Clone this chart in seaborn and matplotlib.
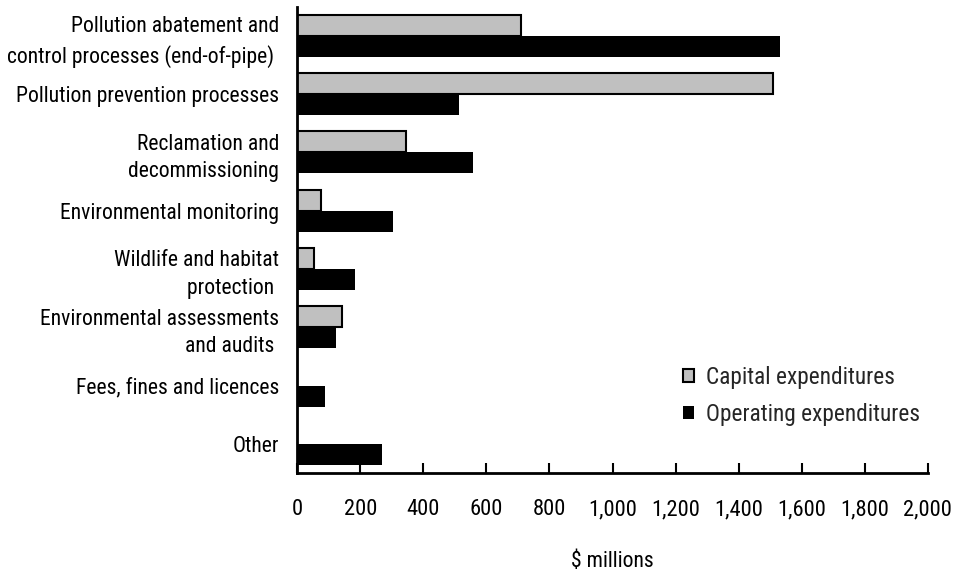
import matplotlib
matplotlib.use("Agg")
import matplotlib.pyplot as plt
from matplotlib import font_manager
from matplotlib.patches import Patch
from matplotlib.ticker import FuncFormatter
import pandas as pd
import seaborn as sns

categories = [
    "Pollution abatement and\ncontrol processes (end-of-pipe) ",
    "Pollution prevention processes",
    "Reclamation and\ndecommissioning",
    "Environmental monitoring",
    "Wildlife and habitat\nprotection ",
    "Environmental assessments\nand audits ",
    "Fees, fines and licences",
    "Other",
]
capital = [710, 1508, 345, 75, 53, 142, 0, 0]
operating = [1531, 513, 557, 304, 183, 122, 87, 268]
series_names = ["Capital expenditures", "Operating expenditures"]
x_ticks = list(range(0, 2001, 200))

df = pd.DataFrame({
    "category": categories * 2,
    "value": capital + operating,
    "series": [series_names[0]] * len(categories) + [series_names[1]] * len(categories),
})

sns.set_style("white")

# Prefer a narrow sans face for the labels, falling back to a regular one.
fonts = font_manager.fontManager.ttflist
names = {f.name for f in fonts}
family, stretch, FS, TFS, LFS = "Liberation Sans", "normal", 13, 13.5, 14
if "Roboto Condensed" in names:
    family, FS, TFS, LFS = "Roboto Condensed", 15.6, 16.2, 16.8
elif "Liberation Sans Narrow" in names:
    family, FS, TFS, LFS = "Liberation Sans Narrow", 15, 15.5, 16
elif any(f.name == "DejaVu Sans" and f.stretch == "condensed" for f in fonts):
    family, stretch, FS, TFS, LFS = "DejaVu Sans", "condensed", 13.5, 14, 14.5
elif "Liberation Sans" not in names:
    family = "DejaVu Sans"
plt.rcParams["font.family"] = [family, "DejaVu Sans"]
plt.rcParams["font.stretch"] = stretch

GRAY = "#c0c0c0"
BLACK = "#000000"

fig = plt.figure(figsize=(9.58, 5.72), dpi=100)
W, H = 958, 572
ax = fig.add_axes([297.3 / W, 1 - 473 / H, (927.7 - 297.3) / W, (473 - 6.7) / H])

sns.barplot(
    data=df, y="category", x="value", hue="series", orient="h",
    palette=[GRAY, BLACK], saturation=1, width=0.72, ax=ax,
    edgecolor="black", linewidth=1.5, legend=False,
)
for bar in ax.containers[1]:
    bar.set_linewidth(0)

ax.set_xlim(0, 2000)
ax.set_ylim(7.5, -0.5)
ax.set_xticks(x_ticks)
ax.xaxis.set_major_formatter(FuncFormatter(lambda v, p: f"{int(v):,}"))
ax.tick_params(axis="x", direction="in", length=7, width=1.5, pad=19,
               labelsize=TFS, colors="black", bottom=True)
ax.tick_params(axis="y", length=0, pad=13, labelsize=FS, colors="black")
for lab in ax.get_yticklabels():
    lab.set_linespacing(1.4)

ax.set_ylabel("")
ax.set_xlabel("$ millions", fontsize=FS, labelpad=22, color="black")

for side in ["top", "right"]:
    ax.spines[side].set_visible(False)
for side in ["left", "bottom"]:
    ax.spines[side].set_color("black")
    ax.spines[side].set_linewidth(2)

handles = [
    Patch(facecolor=GRAY, edgecolor="black", linewidth=1.5),
    Patch(facecolor=BLACK, edgecolor="black", linewidth=0),
]
fig.legend(
    handles, series_names, loc="upper left",
    bbox_to_anchor=(682.5 / W, 1 - 366 / H), frameon=False, fontsize=LFS,
    handlelength=0.5, handleheight=0.5, handletextpad=0.5, labelspacing=0.6,
    borderpad=0, borderaxespad=0,
)

fig.savefig("out.png", dpi=100)
